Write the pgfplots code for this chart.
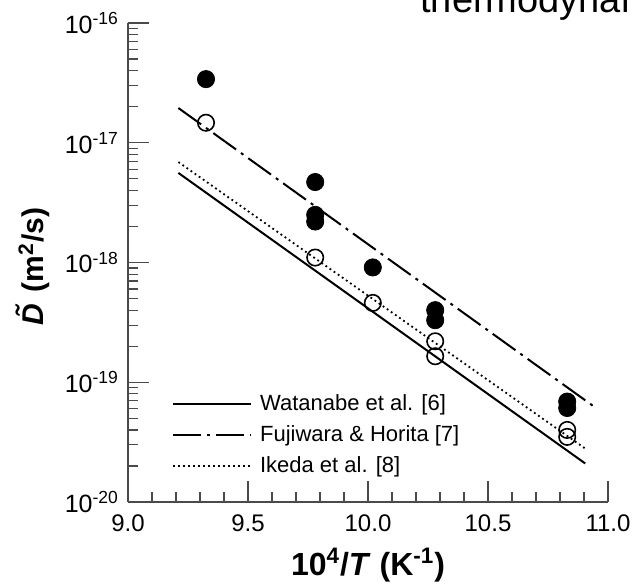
\documentclass[border=0pt]{standalone}
\usepackage{fontspec}
\setmainfont{Liberation Sans}
\usepackage{pgfplots}
\pgfplotsset{compat=1.18}
\definecolor{axgray}{HTML}{4A4A4A}
\begin{document}
\begin{tikzpicture}
\useasboundingbox (-64pt,-40.5pt) rectangle (253.5pt,251pt);
\begin{axis}[
  at={(0pt,0pt)}, anchor=south west,
  scale only axis, width=240pt, height=239.5pt,
  xmin=9, xmax=11, ymin=1e-20, ymax=1e-16, ymode=log,
  axis x line*=bottom, axis y line*=left,
  axis line style={axgray, line width=0.7pt},
  every tick/.style={axgray, line width=0.6pt},
  tick align=inside,
  major tick length=10.5pt, minor tick length=5pt,
  xtick={9,9.5,10,10.5,11},
  xticklabels={9.0,9.5,10.0,10.5,11.0},
  minor x tick num=4,
  ytick={1e-20,1e-19,1e-18,1e-17,1e-16},
  yticklabels={10\textsuperscript{-20},10\textsuperscript{-19},10\textsuperscript{-18},10\textsuperscript{-17},10\textsuperscript{-16}},
  tick label style={font=\fontsize{12}{14}\selectfont},
  xticklabel style={yshift=-3pt},
  yticklabel style={xshift=-1pt, font=\fontsize{12.5}{14}\selectfont},
  xlabel={\textbf{10\textsuperscript{4}/\textit{T} (K\textsuperscript{-1})}},
  ylabel={\textbf{\textit{D}\kern-0.47em\raisebox{0.2em}{\textit{\char"02DC}}\kern0.14em\ (m\textsuperscript{2}/s)}},
  xlabel style={font=\fontsize{16}{18}\selectfont, at={(axis description cs:0.5,0)}, anchor=center, yshift=-31.5pt},
  ylabel style={font=\fontsize{15}{18}\selectfont, at={(axis description cs:0,0.5)}, anchor=center, yshift=47.5pt, xshift=-2pt},
  legend style={draw=none, fill=none, font=\fontsize{11}{13}\selectfont,
    at={(axis description cs:0.091,0.234)}, anchor=north west,
    inner sep=0pt, row sep=2pt, cells={anchor=west}},
  legend cell align=left,
  legend image code/.code={\draw[#1] (0pt,0pt) -- (39pt,0pt);},
]
\addplot[black, line width=1pt, no markers] coordinates {(9.21,5.6e-18) (10.905,2.1e-20)};
\addlegendentry{\hspace{2pt}Watanabe et al. [6]}
\addplot[black, line width=1pt, no markers, dash pattern=on 14pt off 3pt on 1.5pt off 3pt] coordinates {(9.21,1.95e-17) (10.94,6.3e-20)};
\addlegendentry{\hspace{2pt}Fujiwara \& Horita [7]}
\addplot[black, line width=0.9pt, no markers, dash pattern=on 0.9pt off 1.6pt] coordinates {(9.21,6.9e-18) (10.91,2.75e-20)};
\addlegendentry{\hspace{2pt}Ikeda et al. [8]}
\addplot[only marks, mark=*, mark size=4.3pt, mark options={fill=black, draw=black}, forget plot] coordinates {
(9.325,3.4e-17) (9.78,4.7e-18) (9.78,2.5e-18) (9.78,2.2e-18) (10.02,9.1e-19)
(10.28,4.0e-19) (10.28,3.3e-19) (10.83,6.9e-20) (10.83,6.1e-20)};
\addplot[only marks, mark=o, mark size=4.1pt, mark options={draw=black, fill=white, line width=0.8pt}, forget plot] coordinates {
(9.325,1.47e-17) (9.78,1.1e-18) (10.02,4.6e-19) (10.28,2.2e-19) (10.28,1.65e-19)
(10.83,4.0e-20) (10.83,3.5e-20)};
\end{axis}
\node[anchor=base west, font=\fontsize{19}{22}\selectfont, inner sep=0pt] at (146pt,244.5pt) {thermodynamic};
\end{tikzpicture}
\end{document}
